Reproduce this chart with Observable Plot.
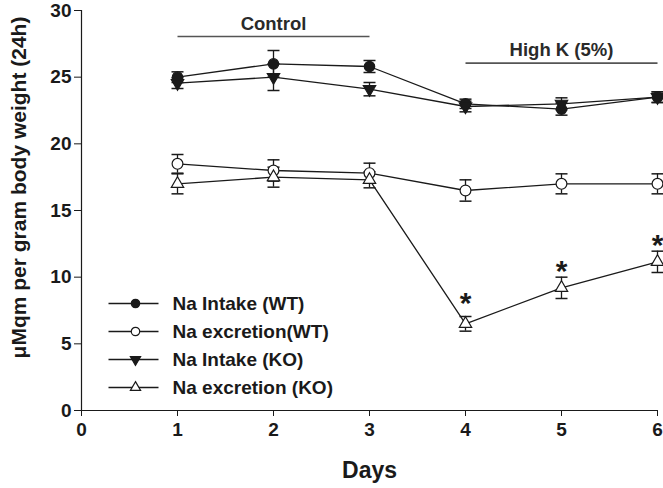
<!DOCTYPE html>
<html>
<head>
<meta charset="utf-8">
<script src="https://cdn.jsdelivr.net/npm/d3@7"></script>
<script src="https://cdn.jsdelivr.net/npm/@observablehq/plot@0.6"></script>
<style>
  html, body { margin: 0; padding: 0; background: #fff; }
  svg { font-family: "Liberation Sans", Arial, sans-serif; }
</style>
</head>
<body>
<div id="chart"></div>
<script>
const days = [1, 2, 3, 4, 5, 6];
const xTicks = [0, 1, 2, 3, 4, 5, 6];
const yTicks = [0, 5, 10, 15, 20, 25, 30];

const seriesNames = ["Na Intake (WT)", "Na excretion(WT)", "Na Intake (KO)", "Na excretion (KO)"];
const intakeWT = [25.0, 26.0, 25.8, 23.0, 22.6, 23.5];
const intakeWTErr = [0.4, 1.0, 0.45, 0.35, 0.45, 0.4];
const excretionWT = [18.5, 18.0, 17.8, 16.5, 17.0, 17.0];
const excretionWTErr = [0.7, 0.8, 0.75, 0.8, 0.75, 0.75];
const intakeKO = [24.55, 25.0, 24.1, 22.8, 23.0, 23.5];
const intakeKOErr = [0.4, 1.0, 0.5, 0.4, 0.45, 0.4];
const excretionKO = [17.0, 17.5, 17.3, 6.5, 9.2, 11.15];
const excretionKOErr = [0.75, 0.75, 0.6, 0.55, 0.8, 0.8];

const starDays = [4, 5, 6];
const starValues = [8.5, 10.85, 12.85];

const periodLabels = ["Control", "High K (5%)"];
const periodStart = [1, 4];
const periodEnd = [3, 6];
const periodMid = [2, 5];
const periodBarY = [28.05, 26.05];
const periodTextY = [29.0, 27.0];

const yTitle = "μMqm per gram body weight (24h)";
const xTitle = "Days";

// styles per series (not data)
const styles = [
  {symbol: "circle", fill: "#1a1a1a", r: 5.2, lr: 4.2, rotate: 0},
  {symbol: "circle", fill: "white", r: 5.4, lr: 4.2, rotate: 0},
  {symbol: "triangle", fill: "#1a1a1a", r: 4.6, lr: 3.8, rotate: 180},
  {symbol: "triangle", fill: "white", r: 4.6, lr: 3.8, rotate: 0}
];
const values = [intakeWT, excretionWT, intakeKO, excretionKO];
const errs = [intakeWTErr, excretionWTErr, intakeKOErr, excretionKOErr];

const rows = [];
seriesNames.forEach((s, si) => {
  days.forEach((d, i) => {
    rows.push({series: s, si, day: d, value: values[si][i], err: errs[si][i]});
  });
});

// horizontal-line symbol for error caps / legend lines
const hline = {
  draw(context, size) {
    const w = Math.sqrt(size / Math.PI);
    context.moveTo(-w, 0);
    context.lineTo(w, 0);
  }
};

const ink = "#1a1a1a";
const marks = [];

// axis lines
marks.push(Plot.ruleY([0], {stroke: ink, strokeWidth: 1.2}));
marks.push(Plot.ruleX([0], {stroke: ink, strokeWidth: 1.2}));
marks.push(Plot.axisX(xTicks, {ticks: xTicks, tickSize: 6, tickPadding: 6, fontSize: 19, fontWeight: "bold", fill: ink, stroke: ink, label: null, tickFormat: d => d}));
marks.push(Plot.axisY(yTicks, {ticks: yTicks, tickSize: 7, tickPadding: 3, fontSize: 19, fontWeight: "bold", fill: ink, stroke: ink, label: null, tickFormat: d => d}));

// period annotations
const periods = periodLabels.map((t, i) => ({t, x1: periodStart[i], x2: periodEnd[i], xm: periodMid[i], yb: periodBarY[i], yt: periodTextY[i]}));
marks.push(Plot.link(periods, {x1: "x1", x2: "x2", y1: "yb", y2: "yb", stroke: "#555", strokeWidth: 1.6}));
marks.push(Plot.text(periods, {x: "xm", y: "yt", text: "t", fontSize: 18.5, fontWeight: "bold", fill: "#2a2a2a"}));

// lines
marks.push(Plot.line(rows, {x: "day", y: "value", z: "series", stroke: ink, strokeWidth: 1.3}));

// error bars
marks.push(Plot.ruleX(rows, {x: "day", y1: d => d.value - d.err, y2: d => d.value + d.err, stroke: ink, strokeWidth: 1.3}));
marks.push(Plot.dot(rows, {x: "day", y: d => d.value + d.err, symbol: hline, r: 6, stroke: ink, strokeWidth: 1.5}));
marks.push(Plot.dot(rows, {x: "day", y: d => d.value - d.err, symbol: hline, r: 6, stroke: ink, strokeWidth: 1.5}));

// markers
seriesNames.forEach((s, si) => {
  const st = styles[si];
  marks.push(Plot.dot(rows.filter(d => d.si === si), {
    x: "day", y: "value", symbol: st.symbol, r: st.r, rotate: st.rotate,
    fill: st.fill, stroke: ink, strokeWidth: 1.2
  }));
});

// asterisks
const stars = starDays.map((d, i) => ({day: d, y: starValues[i]}));
marks.push(Plot.text(stars, {x: "day", y: "y", text: () => "*", fontSize: 30, fontWeight: "bold", fill: ink, dy: 6}));

// legend
seriesNames.forEach((s, si) => {
  const st = styles[si];
  const dy = 293 + si * 28;
  marks.push(Plot.dot([s], {frameAnchor: "top-left", dx: 52, dy, symbol: hline, r: 25, stroke: ink, strokeWidth: 1.3}));
  marks.push(Plot.dot([s], {frameAnchor: "top-left", dx: 54, dy, symbol: st.symbol, r: st.lr, rotate: st.rotate, fill: st.fill, stroke: ink, strokeWidth: 1.2}));
  marks.push(Plot.text([s], {frameAnchor: "top-left", dx: 91, dy, text: d => d, textAnchor: "start", lineAnchor: "middle", fontSize: 19, fontWeight: "bold", fill: ink}));
});

// axis titles
marks.push(Plot.text([yTitle], {frameAnchor: "left", dx: -62, dy: -23, rotate: -90, text: d => d, textAnchor: "middle", fontSize: 21, fontWeight: "bold", fill: ink, lineAnchor: "middle"}));
marks.push(Plot.text([xTitle], {frameAnchor: "bottom", dy: 60, text: d => d, textAnchor: "middle", fontSize: 23, fontWeight: "bold", fill: ink, lineAnchor: "middle"}));

const chart = Plot.plot({
  width: 663,
  height: 488,
  marginLeft: 81,
  marginRight: 6,
  marginTop: 10,
  marginBottom: 78,
  style: {fontFamily: '"Liberation Sans", Arial, sans-serif', background: "white", color: ink},
  x: {domain: [0, 6]},
  y: {domain: [0, 30]},
  marks
});
document.getElementById("chart").appendChild(chart);
</script>
</body>
</html>
